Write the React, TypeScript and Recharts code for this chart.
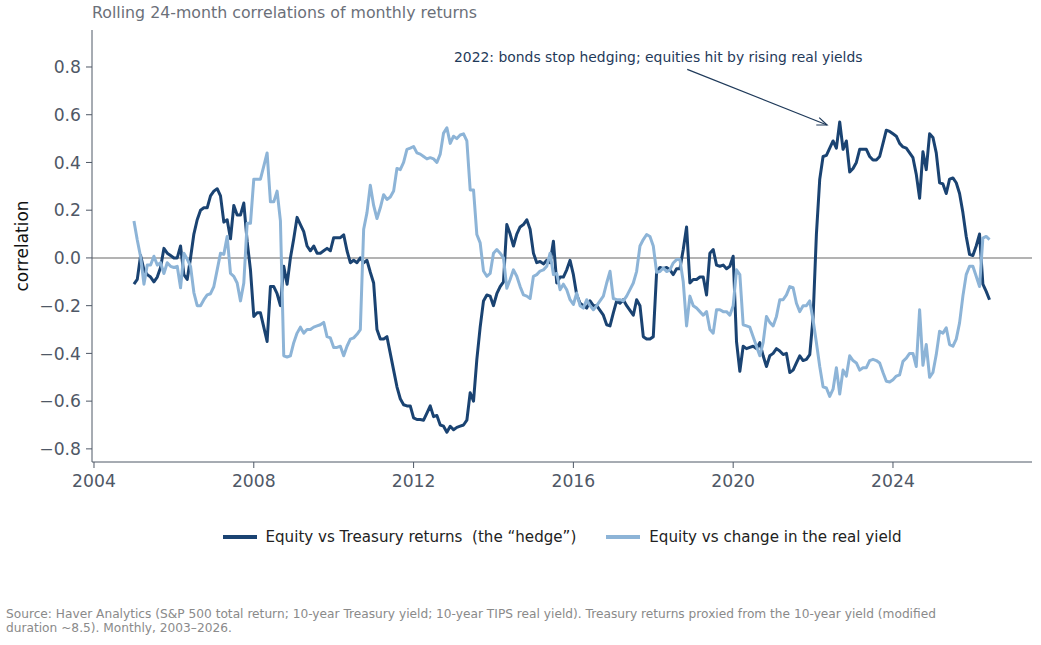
import * as React from "react";
import {
  LineChart,
  Line,
  XAxis,
  YAxis,
  ReferenceLine,
  ReferenceDot,
} from "recharts";

if (typeof document !== "undefined") document.body.style.margin = "0";

// monthly points, Jan 2005 onwards
const START_YEAR = 2005;

// Equity vs Treasury returns (the "hedge")
const HEDGE = [
  -0.11, -0.09, 0.01, -0.05, -0.07, -0.08, -0.10, -0.08, -0.04, 0.04, 0.02, 0.01,
  0.0, 0.0, 0.05, -0.07, -0.09, 0.0, 0.10, 0.16, 0.20, 0.21, 0.21, 0.26,
  0.28, 0.29, 0.26, 0.15, 0.16, 0.08, 0.22, 0.18, 0.18, 0.23, 0.07, -0.05,
  -0.245, -0.23, -0.23, -0.29, -0.35, -0.12, -0.12, -0.15, -0.2, -0.035, -0.11, 0.0,
  0.08, 0.17, 0.14, 0.11, 0.05, 0.03, 0.05, 0.02, 0.02, 0.03, 0.04, 0.03,
  0.085, 0.085, 0.085, 0.097, 0.03, -0.02, -0.01, -0.02, 0.0, -0.02, -0.01, -0.06,
  -0.105, -0.30, -0.34, -0.34, -0.33, -0.40, -0.47, -0.54, -0.59, -0.615, -0.62, -0.62,
  -0.67, -0.677, -0.677, -0.68, -0.65, -0.62, -0.665, -0.66, -0.70, -0.705, -0.73, -0.705,
  -0.72, -0.71, -0.705, -0.70, -0.68, -0.565, -0.60, -0.425, -0.29, -0.18, -0.155, -0.16,
  -0.20, -0.15, -0.12, -0.10, 0.14, 0.10, 0.05, 0.10, 0.13, 0.14, 0.16, 0.12,
  0.02, -0.02, -0.015, -0.025, -0.01, -0.02, 0.07, -0.105, -0.08, -0.08, -0.05, -0.01,
  -0.07, -0.155, -0.19, -0.20, -0.21, -0.18, -0.20, -0.20, -0.22, -0.24, -0.28, -0.285,
  -0.23, -0.18, -0.19, -0.175, -0.20, -0.22, -0.24, -0.175, -0.20, -0.33, -0.34, -0.34,
  -0.33, -0.06, -0.04, -0.045, -0.04, -0.05, -0.07, -0.045, -0.045, 0.035, 0.13, -0.105,
  -0.09, -0.09, -0.08, -0.08, -0.155, 0.02, 0.035, -0.03, -0.035, -0.03, -0.045, -0.035,
  0.007, -0.35, -0.475, -0.37, -0.38, -0.375, -0.37, -0.38, -0.355, -0.41, -0.455, -0.41,
  -0.40, -0.38, -0.39, -0.405, -0.40, -0.48, -0.47, -0.44, -0.41, -0.43, -0.425, -0.405,
  -0.25, 0.10, 0.33, 0.425, 0.43, 0.46, 0.49, 0.46, 0.57, 0.455, 0.49, 0.36,
  0.375, 0.40, 0.455, 0.455, 0.455, 0.425, 0.41, 0.41, 0.425, 0.48, 0.535, 0.53,
  0.52, 0.51, 0.48, 0.465, 0.46, 0.44, 0.42, 0.35, 0.25, 0.445, 0.37, 0.52,
  0.505, 0.44, 0.315, 0.31, 0.27, 0.33, 0.335, 0.315, 0.27, 0.19, 0.09, 0.015,
  0.01, 0.05, 0.10, -0.11, -0.14, -0.175,
];

// Equity vs change in the real yield
const REAL_YIELD = [
  0.155, 0.075, 0.005, -0.11, -0.03, -0.03, 0.007, -0.03, -0.02, -0.065, -0.02, -0.035,
  -0.04, -0.035, -0.125, 0.02, -0.005, -0.035, -0.145, -0.20, -0.20, -0.175, -0.155, -0.15,
  -0.12, -0.05, 0.02, 0.015, 0.09, -0.065, -0.077, -0.105, -0.18, -0.105, 0.145, 0.145,
  0.33, 0.33, 0.33, 0.385, 0.44, 0.235, 0.235, 0.28, 0.155, -0.41, -0.415, -0.41,
  -0.355, -0.315, -0.29, -0.315, -0.30, -0.30, -0.29, -0.285, -0.28, -0.27, -0.33, -0.335,
  -0.375, -0.375, -0.37, -0.41, -0.37, -0.34, -0.335, -0.32, -0.30, 0.12, 0.19, 0.305,
  0.22, 0.165, 0.21, 0.265, 0.245, 0.255, 0.28, 0.375, 0.37, 0.40, 0.455, 0.46,
  0.467, 0.44, 0.435, 0.425, 0.415, 0.42, 0.415, 0.40, 0.435, 0.523, 0.545, 0.48,
  0.51, 0.50, 0.515, 0.52, 0.49, 0.285, 0.285, 0.098, 0.063, -0.055, -0.077, -0.065,
  0.02, 0.035, 0.02, 0.0, -0.127, -0.09, -0.05, -0.077, -0.12, -0.155, -0.16, -0.17,
  -0.077, -0.07, -0.055, -0.05, -0.035, 0.02, -0.07, -0.065, -0.133, -0.11, -0.133, -0.175,
  -0.195, -0.147, -0.20, -0.21, -0.175, -0.20, -0.217, -0.20, -0.18, -0.16, -0.105, -0.056,
  -0.17, -0.175, -0.175, -0.18, -0.16, -0.133, -0.105, -0.056, 0.05, 0.077, 0.098, 0.09,
  0.05, -0.06, -0.057, -0.042, -0.057, -0.05, -0.021, -0.007, -0.007, -0.1, -0.285, -0.16,
  -0.20, -0.21, -0.225, -0.24, -0.225, -0.30, -0.315, -0.217, -0.217, -0.225, -0.225, -0.24,
  -0.2, -0.05, -0.07, -0.28, -0.285, -0.29, -0.33, -0.37, -0.41, -0.355, -0.245, -0.27,
  -0.285, -0.245, -0.175, -0.175, -0.155, -0.12, -0.125, -0.19, -0.225, -0.2, -0.2, -0.18,
  -0.26, -0.355, -0.455, -0.54, -0.545, -0.58, -0.55, -0.46, -0.57, -0.47, -0.495, -0.41,
  -0.43, -0.44, -0.47, -0.46, -0.46, -0.43, -0.425, -0.43, -0.44, -0.48, -0.517, -0.52,
  -0.51, -0.495, -0.49, -0.433, -0.42, -0.40, -0.40, -0.455, -0.217, -0.45, -0.363, -0.50,
  -0.48, -0.405, -0.307, -0.315, -0.293, -0.363, -0.37, -0.34, -0.272, -0.16, -0.07, -0.035,
  -0.035, -0.077, -0.12, 0.083, 0.09, 0.077,
];

const X_TICKS = [2004, 2008, 2012, 2016, 2020, 2024];
const Y_TICKS = [-0.8, -0.6, -0.4, -0.2, 0, 0.2, 0.4, 0.6, 0.8];

const ANNOTATION = "2022: bonds stop hedging; equities hit by rising real yields";
const ANN_TEXT_AT = { x: 2018.125, y: 0.842 };
const ANN_FROM = { x: 2018.85, y: 0.79 };
const ANN_TO = { x: 2022.35, y: 0.557 };

const DARK = "#1a4372";
const LIGHT = "#8db4d7";
const AXIS = "#4f5866";
const FONT = "'DejaVu Sans', sans-serif";

const data = HEDGE.map((v, i) => ({
  t: START_YEAR + i / 12,
  hedge: v,
  real: REAL_YIELD[i],
}));

const fmtY = (v: number) => (v < 0 ? "\u2212" + Math.abs(v).toFixed(1) : v.toFixed(1));

// arrow from the note to the 2022 peak
function ArrowShape(props: any) {
  const { x1, y1, x2, y2 } = props;
  const ang = Math.atan2(y2 - y1, x2 - x1);
  const len = 10;
  const w = 4;
  const bx = x2 - len * Math.cos(ang);
  const by = y2 - len * Math.sin(ang);
  const p1 = `${bx + w * Math.sin(ang)},${by - w * Math.cos(ang)}`;
  const p2 = `${bx - w * Math.sin(ang)},${by + w * Math.cos(ang)}`;
  return (
    <g>
      <line x1={x1} y1={y1} x2={x2} y2={y2} stroke="#1f3a5a" strokeWidth={1.2} />
      <polyline points={`${p1} ${x2},${y2} ${p2}`} fill="none" stroke="#1f3a5a" strokeWidth={1.2} />
    </g>
  );
}

function NoteShape(props: any) {
  const { cx, cy } = props;
  return (
    <text x={cx} y={cy} textAnchor="middle" dominantBaseline="central" fontSize={13.9} fill="#1f3a5a" fontFamily={FONT}>
      {ANNOTATION}
    </text>
  );
}

function LegendItem({ color, label }: { color: string; label: string }) {
  return (
    <span style={{ display: "inline-flex", alignItems: "center", gap: 9 }}>
      <span style={{ display: "inline-block", width: 34, height: 4, background: color }} />
      <span style={{ whiteSpace: "pre" }}>{label}</span>
    </span>
  );
}

export default function App() {
  return (
    <div style={{ position: "relative", width: 1041, height: 645, background: "#fff", fontFamily: FONT }}>
      <div style={{ position: "absolute", left: 92, top: 3, fontSize: 15.8, color: "#6b7079" }}>
        Rolling 24-month correlations of monthly returns
      </div>
      <div
        style={{
          position: "absolute",
          left: 22,
          top: 246,
          transform: "translate(-50%, -50%) rotate(-90deg)",
          fontSize: 17,
          color: "#111",
          whiteSpace: "nowrap",
        }}
      >
        correlation
      </div>
      <LineChart width={1041} height={645} data={data} margin={{ top: 30, right: 9, bottom: 153, left: 32 }}>
        <XAxis
          dataKey="t"
          type="number"
          domain={[2003.95, 2027.48]}
          ticks={X_TICKS}
          tickSize={6}
          tickMargin={7}
          height={30}
          stroke={AXIS}
          tick={{ fill: AXIS, fontSize: 17.2, fontFamily: FONT }}
        />
        <YAxis
          type="number"
          domain={[-0.855, 0.955]}
          ticks={Y_TICKS}
          tickFormatter={fmtY}
          tickSize={6}
          tickMargin={5}
          width={60}
          stroke={AXIS}
          tick={{ fill: AXIS, fontSize: 17.2, fontFamily: FONT }}
        />
        <ReferenceLine y={0} stroke="#9a9a9a" strokeWidth={1.5} />
        <Line
          type="linear"
          dataKey="hedge"
          stroke={DARK}
          strokeWidth={3}
          dot={false}
          strokeLinejoin="round"
          isAnimationActive={false}
        />
        <Line
          type="linear"
          dataKey="real"
          stroke={LIGHT}
          strokeWidth={3}
          dot={false}
          strokeLinejoin="round"
          isAnimationActive={false}
        />
        <ReferenceLine segment={[ANN_FROM, ANN_TO]} shape={ArrowShape} />
        <ReferenceDot x={ANN_TEXT_AT.x} y={ANN_TEXT_AT.y} r={0} shape={NoteShape} />
      </LineChart>
      <div
        style={{
          position: "absolute",
          left: 92,
          width: 940,
          top: 528,
          display: "flex",
          justifyContent: "center",
          gap: 30,
          fontSize: 15.1,
          color: "#222",
        }}
      >
        <LegendItem color={DARK} label={"Equity vs Treasury returns  (the \u201chedge\u201d)"} />
        <LegendItem color={LIGHT} label="Equity vs change in the real yield" />
      </div>
      <div
        style={{
          position: "absolute",
          left: 6,
          top: 607,
          width: 945,
          fontSize: 12.2,
          lineHeight: "14px",
          color: "#8a8a8a",
        }}
      >
        Source: Haver Analytics (S&amp;P 500 total return; 10-year Treasury yield; 10-year TIPS real yield). Treasury returns proxied from the 10-year yield (modified duration ~8.5). Monthly, 2003–2026.
      </div>
    </div>
  );
}
